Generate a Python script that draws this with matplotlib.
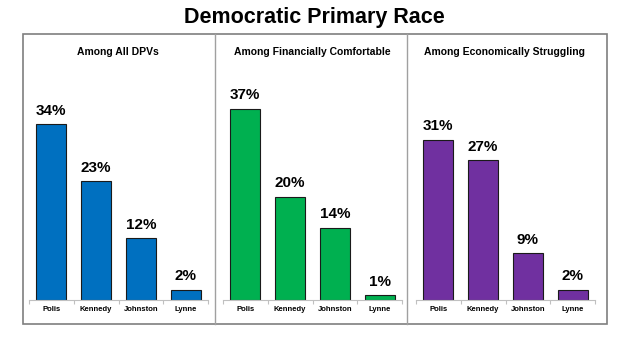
import matplotlib.pyplot as plt
from matplotlib.patches import Rectangle
from matplotlib.lines import Line2D

plt.rcParams['font.family'] = ['Liberation Sans', 'DejaVu Sans']

candidates = ['Polis', 'Kennedy', 'Johnston', 'Lynne']
panel_titles = ['Among All DPVs', 'Among Financially Comfortable', 'Among Economically Struggling']
all_dpvs = [34, 23, 12, 2]
comfortable = [37, 20, 14, 1]
struggling = [31, 27, 9, 2]
colors = ['#0070C0', '#00B050', '#7030A0']

W, H = 628, 347
fig = plt.figure(figsize=(W / 100, H / 100), dpi=100)

def fx(px):
    return px / W

def fy(py):
    return 1 - py / H

# outer frame and dividers
fig.patches.append(Rectangle((fx(23), fy(324)), fx(607) - fx(23), fy(34) - fy(324),
                             transform=fig.transFigure, fill=False, edgecolor='#7f7f7f', lw=1.2))
for xd in [215, 407]:
    fig.lines.append(Line2D([fx(xd), fx(xd)], [fy(324), fy(34)], transform=fig.transFigure,
                            color='#a0a0a0', lw=1))

fig.text(0.5, fy(17), 'Democratic Primary Race', ha='center', va='center',
         fontsize=15.5, fontweight='bold')

series = [all_dpvs, comfortable, struggling]
lefts = [29, 223, 416]
for i, vals in enumerate(series):
    ax = fig.add_axes([fx(lefts[i]), fy(300), fx(179), fy(93) - fy(300)])
    x = range(len(candidates))
    ax.bar(x, vals, width=0.67, color=colors[i], edgecolor='#1a1a1a', lw=0.8)
    for xi, v in zip(x, vals):
        ax.text(xi, v + 1.2, f'{v}%', ha='center', va='bottom', fontsize=11, fontweight='bold')
    ax.set_xlim(-0.5, 3.5)
    ax.set_ylim(0, 40)
    for s in ['top', 'right', 'left']:
        ax.spines[s].set_visible(False)
    ax.spines['bottom'].set_color('#c0c0c0')
    ax.set_yticks([])
    ax.set_xticks([-0.5, 0.5, 1.5, 2.5, 3.5])
    ax.set_xticklabels([])
    ax.set_xticks(list(x), minor=True)
    ax.set_xticklabels(candidates, minor=True, fontsize=5.5, fontweight='bold')
    ax.tick_params(axis='x', which='major', length=3, color='#c0c0c0')
    ax.tick_params(axis='x', which='minor', length=0, pad=4.5)
    fig.text(fx(lefts[i] + 89), fy(52), panel_titles[i], ha='center', va='center',
             fontsize=7.5, fontweight='bold')

fig.savefig('out.png', dpi=100)
